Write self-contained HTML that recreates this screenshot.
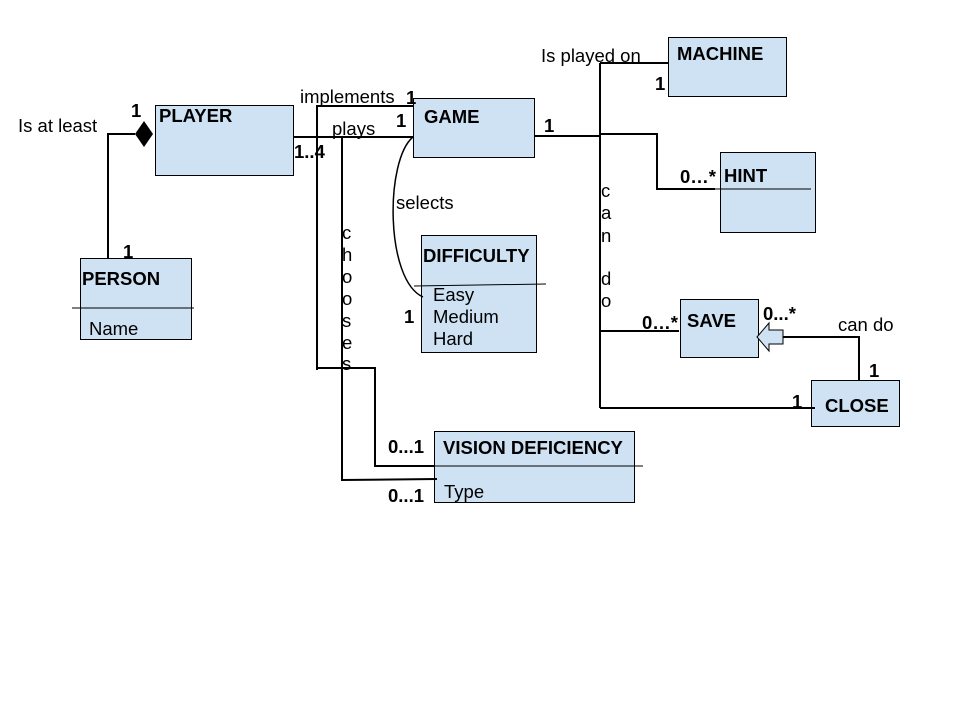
<!DOCTYPE html>
<html><head><meta charset="utf-8"><style>
body{margin:0;background:#fff}
svg{display:block}
text{font-family:"Liberation Sans",Arial,sans-serif;font-size:18.5px;fill:#000}
.b{font-weight:bold}
</style></head><body>
<svg width="960" height="720" viewBox="0 0 960 720">
<rect width="960" height="720" fill="#fff"/>
<g fill="#cfe2f3" stroke="#000" stroke-width="1">
<rect x="155.5" y="105.5" width="138" height="70"/>
<rect x="80.5" y="258.5" width="111" height="81"/>
<rect x="413.5" y="98.5" width="121" height="59"/>
<rect x="421.5" y="235.5" width="115" height="117"/>
<rect x="668.5" y="37.5" width="118" height="59"/>
<rect x="720.5" y="152.5" width="95" height="80"/>
<rect x="680.5" y="299.5" width="78" height="58"/>
<rect x="811.5" y="380.5" width="88" height="46"/>
<rect x="434.5" y="431.5" width="200" height="71"/>
</g>
<g stroke="#000" stroke-width="1" fill="none">
<line x1="72" y1="308" x2="194" y2="308"/>
<line x1="414" y1="286" x2="546" y2="284"/>
<line x1="376" y1="466" x2="643" y2="466"/>
</g>
<g stroke="#000" stroke-width="2" fill="none">
<polyline points="108,258 108,134 135,134"/>
<polyline points="317,370 317,106 413,106"/>
<line x1="293" y1="137" x2="413" y2="137"/>
<polyline points="342,137 342,480 437,479"/>
<polyline points="317,368 375,368 375,466 434,466"/>
<path d="M413,137 C385,160 385,280 423,297" stroke-width="1.5"/>
<line x1="534" y1="136" x2="600" y2="136"/>
<line x1="600" y1="63" x2="600" y2="408"/>
<line x1="600" y1="63" x2="668" y2="63"/>
<polyline points="600,134 657,134 657,189 715,189"/>
<line x1="600" y1="331" x2="679" y2="331"/>
<line x1="600" y1="408" x2="815" y2="408"/>
<polyline points="859,380 859,337 783,337"/>
</g>
<line x1="715" y1="189" x2="811" y2="189" stroke="#000" stroke-width="1"/>
<polygon points="135,134 144,121 153,134 144,147" fill="#000"/>
<polygon points="757,337 769,323 769,330 783,330 783,344 769,344 769,351" fill="#cfe2f3" stroke="#000" stroke-width="1"/>
<text x="159" y="122" class="b">PLAYER</text>
<text x="82" y="285" class="b">PERSON</text>
<text x="89" y="335">Name</text>
<text x="424" y="123" class="b">GAME</text>
<text x="423" y="262" class="b">DIFFICULTY</text>
<text x="433" y="301">Easy</text>
<text x="433" y="323">Medium</text>
<text x="433" y="345">Hard</text>
<text x="677" y="60" class="b">MACHINE</text>
<text x="724" y="182" class="b">HINT</text>
<text x="687" y="327" class="b">SAVE</text>
<text x="825" y="412" class="b">CLOSE</text>
<text x="443" y="454" class="b">VISION DEFICIENCY</text>
<text x="444" y="498">Type</text>
<text x="18" y="132">Is at least</text>
<text x="131" y="117" class="b">1</text>
<text x="123" y="258" class="b">1</text>
<text x="300" y="103">implements</text>
<text x="406" y="104" class="b">1</text>
<text x="332" y="135">plays</text>
<text x="396" y="127" class="b">1</text>
<text x="294" y="158" class="b">1..4</text>
<text x="396" y="209">selects</text>
<text x="404" y="323" class="b">1</text>
<text x="541" y="62">Is played on</text>
<text x="655" y="90" class="b">1</text>
<text x="544" y="132" class="b">1</text>
<text x="680" y="183" class="b">0…*</text>
<text x="642" y="329" class="b">0…*</text>
<text x="763" y="320" class="b">0...*</text>
<text x="838" y="331">can do</text>
<text x="869" y="377" class="b">1</text>
<text x="792" y="408" class="b">1</text>
<text x="388" y="453" class="b">0...1</text>
<text x="388" y="502" class="b">0...1</text>
<g>
<text x="601" y="197">c</text><text x="601" y="219">a</text><text x="601" y="242">n</text>
<text x="601" y="285">d</text><text x="601" y="307">o</text>
</g>
<g>
<text x="342" y="239">c</text><text x="342" y="261">h</text><text x="342" y="283">o</text>
<text x="342" y="305">o</text><text x="342" y="327">s</text><text x="342" y="349">e</text><text x="342" y="370">s</text>
</g>
</svg>
</body></html>
